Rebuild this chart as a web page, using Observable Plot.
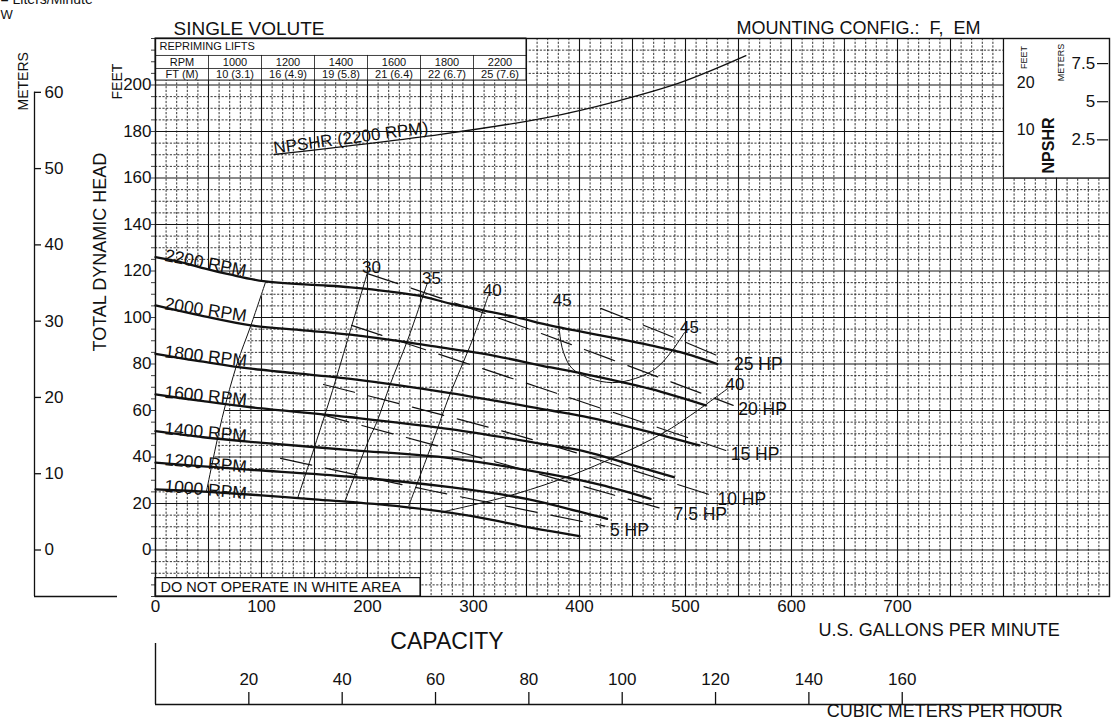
<!DOCTYPE html>
<html><head><meta charset="utf-8">
<script src="https://cdn.jsdelivr.net/npm/d3@7"></script>
<script src="https://cdn.jsdelivr.net/npm/@observablehq/plot@0.6"></script>
<style>
html,body{margin:0;padding:0;background:#fff;}
#chart svg{display:block;}
</style></head><body><div id="chart"></div>
<script>
const FONT = "'Liberation Sans', Arial, Helvetica, sans-serif";
const FT_PER_M = 3.28084;
const GPM_PER_M3H = 4.402868;

// Head-capacity curves: [US gpm, feet TDH]
const curve2200 = [[0,126],[20,124.2],[42,121.6],[70,118.5],[102,115.6],[150,114],[184,113],[247,109.5],[278,106],[310,103],[341,100],[373,96.5],[404,93.7],[435,91],[467,88],[500,84.5],[530,80]];
const curve2000 = [[0,105.2],[42,100.9],[90,96.6],[140,94.5],[184,92.6],[247,88.7],[278,86.5],[310,84.4],[373,78.5],[404,75.8],[467,69.3],[519,62.2]];
const curve1800 = [[0,84.4],[45,81],[90,78],[184,73.6],[278,67.5],[373,60],[404,57.5],[460,51.5],[513,45]];
const curve1600 = [[0,66.9],[45,64],[90,61.4],[184,57.1],[278,52],[373,45],[404,42.5],[450,36.5],[489,31.3]];
const curve1400 = [[0,51.1],[45,48.5],[90,46.5],[184,43],[278,39.5],[373,32.5],[420,28],[467,22]];
const curve1200 = [[0,37.6],[45,36],[90,34.5],[184,31.5],[278,27],[350,22],[400,16.5],[426,13.4]];
const curve1000 = [[0,26.1],[50,25],[100,23.5],[150,21.8],[232,18.7],[300,14.5],[355,9.5],[400,6]];
const rpmNames = ["2200 RPM","2000 RPM","1800 RPM","1600 RPM","1400 RPM","1200 RPM","1000 RPM"];

// Horsepower lines
const hp25 = [[420,103.9],[480,93.1],[541,81.5]];
const hp20 = [[200,118.9],[338,97.4],[545,62.2]];
const hp15 = [[185,96.6],[362,69.9],[538,42.8]];
const hp10 = [[158.5,71.2],[342.5,49.2],[525.5,23.4]];
const hp75 = [[153,58.7],[316,38.5],[484,17]];
const hp5  = [[118,39.4],[259,25.6],[424,10.3]];
const hpNames = ["25 HP","20 HP","15 HP","10 HP","7.5 HP","5 HP"];

// Efficiency lines (%)
const eff30 = [[200,119.4],[181,90.1],[167,68.6],[152,47.1],[134,22.2]];
const eff35 = [[256.6,115],[237.7,90.1],[221.7,71.6],[209.4,55.7],[201,47.1],[179,21.3]];
const eff40 = [[314,109.5],[297,88],[278,67.3],[262,47.1],[239,19.1]];
const eff45 = [[380,105.2],[381,94.4],[385,84.9],[393,78.1],[410,73.8],[431,72],[453,73.8],[472,78.1],[486,84.9],[499,93.5]];
const eff40b = [[540,69.5],[483,51.4],[426,38.5],[379,29.9],[328,22.6],[270,16.3]];
const whiteBoundary = [[104,115.5],[90,96.6],[77,80.2],[63,57],[48,25]];

// NPSHR (2200 RPM): [gpm, feet NPSHR]
const npshr = [[112,5.05],[269,9.4],[369,13],[435,16.5],[495,20.5],[557,26.3]];

// Repriming lifts table
const reprimeRpm = ["1000","1200","1400","1600","1800","2200"];
const reprimeLift = ["10 (3.1)","16 (4.9)","19 (5.8)","21 (6.4)","22 (6.7)","25 (7.6)"];

// Tick labels
const gpmTicks = [0,100,200,300,400,500,600,700];
const feetTicks = [0,20,40,60,80,100,120,140,160,180,200];
const meterTicks = [0,10,20,30,40,50,60];
const m3hTicks = [20,40,60,80,100,120,140,160];
const npshrFeetTicks = [10,20];
const npshrMeterTicks = [2.5,5,7.5];

// grid
const gridMinorX = d3.range(10, 900, 10).filter(v => v % 50 !== 0);
const gridMajorX = d3.range(50, 900, 50);
const gridMinorY = d3.range(-15, 220, 5).filter(v => v % 20 !== 0);
const gridMajorY = d3.range(0, 220, 20);
const feetMinorTicks = d3.range(-20, 221, 5);

// NPSHR panel scale: NPSHR ft mapped onto TDH axis
const npBase = 160, npScale = 2;
const npY = f => npBase + npScale * f;

function yAt(pts, x) {
  for (let i = 1; i < pts.length; i++) {
    if (x <= pts[i][0]) {
      const [x0, y0] = pts[i-1], [x1, y1] = pts[i];
      return y0 + (y1 - y0) * (x - x0) / (x1 - x0);
    }
  }
  return pts[pts.length-1][1];
}

const rpmCurves = [curve2200, curve2000, curve1800, curve1600, curve1400, curve1200, curve1000];
const rpmAngles = [11, 8.5, 6.5, 5.5, 5, 5, 5];
const hpLines = [hp25, hp20, hp15, hp10, hp75, hp5];
const effLeft = [["30", eff30], ["35", eff35], ["40", eff40], ["45", eff45]];

const whitePoly = [
  ...curve2200.filter(p => p[0] < whiteBoundary[0][0]),
  ...whiteBoundary,
  ...curve1000.filter(p => p[0] < whiteBoundary[whiteBoundary.length-1][0]).reverse()
];

const INK = "#111";
const fx = d => d[0], fy = d => d[1];

const chart = Plot.plot({
  width: 1111, height: 723,
  marginLeft: 155, marginRight: 2, marginTop: 38, marginBottom: 127,
  x: {domain: [0, 900], axis: null},
  y: {domain: [-20, 220], axis: null},
  style: {fontFamily: FONT, background: "white", color: INK},
  marks: [
    // grid
    Plot.ruleX(gridMinorX, {stroke: "#1e1e1e", strokeWidth: 0.9, strokeDasharray: "2.2,1.5"}),
    Plot.ruleY(gridMinorY, {stroke: "#1e1e1e", strokeWidth: 0.9, strokeDasharray: "2.2,1.5"}),
    Plot.ruleX(gridMajorX, {stroke: "#141414", strokeWidth: 1.1}),
    Plot.ruleY(gridMajorY, {stroke: "#141414", strokeWidth: 1.1}),
    // white (do not operate) area
    Plot.line(whitePoly, {x: fx, y: fy, fill: "white", stroke: "white", strokeWidth: 1, curve: "linear"}),
    // white panels
    Plot.rect([0], {x1: 800, x2: 900, y1: 160, y2: 220, fill: "white"}),
    Plot.rect([0], {x1: 0, x2: 350, y1: 201.9, y2: 220, fill: "white", stroke: INK, strokeWidth: 1}),
    Plot.rect([0], {x1: 0, x2: 250, y1: -20, y2: -12.1, fill: "white", stroke: INK, strokeWidth: 1.2}),
    Plot.ruleX([800], {y1: 160, y2: 220, stroke: INK, strokeWidth: 1.2}),
    Plot.ruleY([160], {x1: 800, x2: 900, stroke: INK, strokeWidth: 1}),
    Plot.frame({stroke: INK, strokeWidth: 1.4}),
    // reprime table
    Plot.ruleY([212.7, 207.1], {x1: 0, x2: 350, stroke: INK, strokeWidth: 0.8}),
    Plot.ruleX([50,100,150,200,250,300], {y1: 201.9, y2: 212.7, stroke: INK, strokeWidth: 0.8}),
    Plot.text(["REPRIMING LIFTS"], {x: 0, y: 216.4, dx: 4, textAnchor: "start", fontSize: 11}),
    Plot.text(["RPM", ...reprimeRpm], {x: (d, i) => 25 + 50 * i, y: 209.9, fontSize: 11}),
    Plot.text(["FT (M)", ...reprimeLift], {x: (d, i) => 25 + 50 * i, y: 204.5, fontSize: 11}),
    Plot.text(["DO NOT OPERATE IN WHITE AREA"], {x: 0, y: -16, dx: 5, textAnchor: "start", fontSize: 14.5}),
    // efficiency lines
    Plot.line(whiteBoundary, {x: fx, y: fy, stroke: INK, strokeWidth: 1, curve: "catmull-rom"}),
    ...effLeft.map(([, pts]) => Plot.line(pts, {x: fx, y: fy, stroke: INK, strokeWidth: 1, curve: "catmull-rom"})),
    Plot.line(eff40b, {x: fx, y: fy, stroke: INK, strokeWidth: 1, curve: "catmull-rom"}),
    ...effLeft.map(([t, pts]) => Plot.text([t], {x: pts[0][0], y: pts[0][1], dx: 4, dy: 1, lineAnchor: "bottom", fontSize: 17})),
    Plot.text(["45"], {x: eff45[eff45.length-1][0], y: eff45[eff45.length-1][1], dx: 5, dy: 0, lineAnchor: "bottom", fontSize: 17}),
    Plot.text(["40"], {x: eff40b[0][0], y: eff40b[0][1], dx: 7, dy: 2, lineAnchor: "bottom", fontSize: 17}),
    // horsepower lines
    ...hpLines.map(pts => Plot.line(pts, {x: fx, y: fy, stroke: INK, strokeWidth: 1.2, strokeDasharray: "32,14", curve: "catmull-rom"})),
    ...hpLines.map((pts, i) => Plot.text([hpNames[i]], {x: pts[pts.length-1][0], y: pts[pts.length-1][1], dx: 5, dy: 4, textAnchor: "start", fontSize: 17.5})),
    // NPSHR curve
    Plot.line(npshr, {x: fx, y: d => npY(d[1]), stroke: INK, strokeWidth: 1.3, curve: "catmull-rom"}),
    Plot.text(["NPSHR (2200 RPM)"], {x: npshr[0][0], y: npY(npshr[0][1]), rotate: -7.5, textAnchor: "start", lineAnchor: "bottom", dy: -1, fontSize: 17}),
    // RPM curves
    ...rpmCurves.map(pts => Plot.line(pts, {x: fx, y: fy, stroke: INK, strokeWidth: 2.3, curve: "catmull-rom"})),
    ...rpmCurves.map((pts, i) => Plot.text([rpmNames[i]], {x: 8, y: yAt(pts, 8), rotate: rpmAngles[i], textAnchor: "start", lineAnchor: "bottom", dy: 2, fontSize: 17.5})),
    // NPSHR panel scale
    Plot.text(npshrFeetTicks, {x: 821, y: d => npY(d), dy: -2, fontSize: 16}),
    Plot.ruleY(npshrMeterTicks, {y: m => npY(m * FT_PER_M), x1: 888.7, x2: 899.2, stroke: INK, strokeWidth: 1.2}),
    Plot.text(npshrMeterTicks, {x: 886.5, y: m => npY(m * FT_PER_M), textAnchor: "end", fontSize: 17}),
    Plot.text(["FEET"], {x: 819, y: 211.8, rotate: -90, fontSize: 9}),
    Plot.text(["METERS"], {x: 854, y: 209.7, rotate: -90, fontSize: 9}),
    Plot.text(["NPSHR"], {x: 842.5, y: 174, rotate: -90, fontSize: 16, fontWeight: "bold"}),
    // left feet axis
    Plot.ruleY(feetMinorTicks, {x1: 0, x2: 0, insetLeft: -4, stroke: INK, strokeWidth: 0.8}),
    Plot.text(feetTicks, {y: d => d, frameAnchor: "left", dx: -4, textAnchor: "end", fontSize: 17}),
    Plot.text(["FEET"], {frameAnchor: "top-left", dx: -43, dy: 61, rotate: -90, fontSize: 14}),
    Plot.text(["TOTAL DYNAMIC HEAD"], {frameAnchor: "left", dx: -55, dy: 34, rotate: -90, fontSize: 18}),
    // meters axis
    Plot.ruleX([0], {y1: -20, y2: 60 * FT_PER_M, dx: -121, stroke: INK, strokeWidth: 1.3}),
    Plot.ruleY([-20], {x1: 0, x2: 0, insetLeft: -121, insetRight: 38, stroke: INK, strokeWidth: 1.3}),
    Plot.ruleY(meterTicks, {y: m => m * FT_PER_M, x1: 0, x2: 0, insetLeft: -121, insetRight: 114, stroke: INK, strokeWidth: 1.3}),
    Plot.text(meterTicks, {y: m => m * FT_PER_M, frameAnchor: "left", dx: -111, textAnchor: "start", fontSize: 17}),
    Plot.text(["METERS"], {frameAnchor: "top-left", dx: -137, dy: 72, rotate: -90, fontSize: 14}),
    // bottom gpm axis
    Plot.text(gpmTicks, {x: d => d, frameAnchor: "bottom", dy: 15, fontSize: 17}),
    Plot.text(["U.S. GALLONS PER MINUTE"], {x: 853, frameAnchor: "bottom", dy: 39, textAnchor: "end", fontSize: 18}),
    Plot.text(["CAPACITY"], {x: 275, frameAnchor: "bottom", dy: 52, fontSize: 23}),
    // cubic meters per hour axis
    Plot.ruleY([-20], {x1: 0, x2: 850, dy: 108, stroke: INK, strokeWidth: 1.4}),
    Plot.ruleX([0], {insetTop: 497, dy: 108, stroke: INK, strokeWidth: 1.4}),
    Plot.ruleX(m3hTicks, {x: d => d * GPM_PER_M3H, insetTop: 546, dy: 108, stroke: INK, strokeWidth: 1.3}),
    Plot.text(m3hTicks, {x: d => d * GPM_PER_M3H, frameAnchor: "bottom", dy: 88, fontSize: 17}),
    Plot.text(["CUBIC METERS PER HOUR"], {x: 856, frameAnchor: "bottom", dy: 120, textAnchor: "end", fontSize: 18}),
    // titles
    Plot.text(["SINGLE VOLUTE"], {frameAnchor: "top-left", dx: 18, dy: -17, textAnchor: "start", fontSize: 19}),
    Plot.text(["MOUNTING CONFIG.:\u00a0\u00a0F,\u00a0\u00a0EM"], {frameAnchor: "top-right", dx: -129, dy: -17, textAnchor: "end", fontSize: 18}),
    Plot.text(["= Liters/Minute"], {frameAnchor: "top-left", dx: -155, dy: -35, textAnchor: "start", lineAnchor: "bottom", fontSize: 14}),
    Plot.text(["W"], {frameAnchor: "top-left", dx: -155, dy: -20, textAnchor: "start", lineAnchor: "bottom", fontSize: 13})
  ]
});
document.getElementById("chart").appendChild(chart);
</script>
</body></html>
